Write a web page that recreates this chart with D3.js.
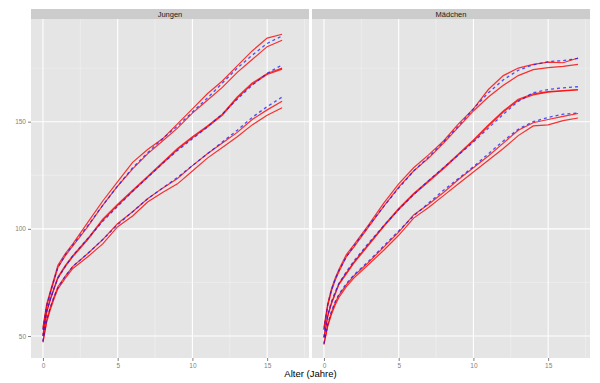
<!DOCTYPE html>
<html><head><meta charset="utf-8">
<script src="https://cdn.jsdelivr.net/npm/d3@7"></script>
<style>body{margin:0;background:#fff}svg{display:block}text{font-family:"Liberation Sans",Arial,sans-serif}</style>
</head><body><svg id="c" width="600" height="383"></svg>
<script>
const panels = ["Jungen", "Mädchen"];
const xTicks = [0, 5, 10, 15];
const yTicks = [50, 100, 150];
const xLabel = "Alter (Jahre)";

const agesBoys  = [0,0.25,0.5,0.75,1,1.5,2,3,4,5,6,7,8,9,10,11,12,13,14,15,16];
const agesGirls = [0,0.25,0.5,0.75,1,1.5,2,3,4,5,6,7,8,9,10,11,12,13,14,15,16,17];

// Jungen
const boysTopA = [54,65,71,77,83,88.5,93,103,113,122,131,137,142,149,156,163,169,176,183,189,190.8];
const boysTopB = [53,64,70,76,82,87.5,92,101,111,120,128,135,141,147,154,160,166,173,179,185,188];
const boysTopRef = [53,64,70.5,76.5,82,88,92.5,101.5,111,120,128.5,135.5,142,148,154.5,161,168,175,181,186.5,190];
const boysMidA = [50,61,67,72,77,82.5,87,95,104,111,117.5,124,130.5,137,142.5,147.5,153,161,167.5,172,174.5];
const boysMidB = [50.5,61.5,67.5,72.5,77.5,83,87.5,95.5,104.5,111.5,118,124.5,131,137.5,143,148,153.5,161.5,168,172.5,175];
const boysMidRef = [50,61.5,67.5,72.5,77,82.5,87.5,95.5,103.5,110.5,117.5,124,130.5,136.5,142,147.5,153.5,160.5,167,172.5,176.5];
const boysLowA = [47.5,57.5,63.5,68.5,73,78,82.5,88.5,95,102.5,108,114,119,123.5,129.5,135,140,145,151,155.5,159.5];
const boysLowB = [47,56.5,62.5,67.5,72,77,81.5,87,93,101,106,112.5,117,121,127,133,138,143,148.5,153,156.5];
const boysLowRef = [47.5,57.5,63.5,68.5,72.5,78,82.5,88.5,95,102,108,114,119,124,129.5,135,140.5,146,152,157,161.5];

// Mädchen
const girlsTopA = [54,65,72,77,81,88,92.5,102,112,121,128.5,134.5,141,149,156,165,171.5,175,176.7,177.8,177.5,179.7];
const girlsTopB = [53,64,71,76,80,87,91.5,101,110.5,119.5,127,133,140,147.5,155,161.5,167,171.5,174.3,175.2,175.8,176.7];
const girlsTopRef = [53,64.5,71.5,76.5,80.5,87,92,101.5,110.5,119,127,133.5,140.5,148,156,163.5,169.5,174,176.5,178,178.5,179.5];
const girlsMidA = [49.5,59.5,65.5,70,74.5,79.5,84.5,93,101.5,109.5,116.5,122.5,128.5,135,141.5,148.5,155,160.5,163,164,164.5,165];
const girlsMidB = [49,59,65,69.5,74,79,84,92.5,101,109,116,122,128,134.5,141,148,154.5,160,162.5,163.8,164.3,164.8];
const girlsMidRef = [49.5,60,66,70.5,74.5,80,85,93.5,101.5,109,116,122.5,128.5,134.5,140.5,147,153.5,159.5,163.5,165,165.8,166.3];
const girlsLowA = [46.5,55,61,65.5,69,74,78,84.5,91.5,98.5,106.5,111.5,117,123,128.5,134,140,146,149.5,151,152.5,153.8];
const girlsLowB = [46,54.5,60,64.5,68,73,77,83.5,90,97,105,110,115.5,121,126.5,132,137.5,143.5,148,148.5,150.5,151.7];
const girlsLowRef = [46.5,55.5,61.5,66,69.5,74.5,78.5,85,92,99,106,112,118,123.5,129,135,141,146.5,150,152,153.5,154];

const facets = [
  {name: panels[0], ages: agesBoys,
   red: [boysTopA, boysTopB, boysMidA, boysMidB, boysLowA, boysLowB],
   blue: [boysTopRef, boysMidRef, boysLowRef]},
  {name: panels[1], ages: agesGirls,
   red: [girlsTopA, girlsTopB, girlsMidA, girlsMidB, girlsLowA, girlsLowB],
   blue: [girlsTopRef, girlsMidRef, girlsLowRef]}
];

const svg = d3.select("#c");
const panelW = 278, panelTop = 19, panelBottom = 358, stripTop = 9;
const panelLefts = [31, 312];
const x = d3.scaleLinear().domain([-0.8, 17.8]).range([0, panelW]);
const y = d3.scaleLinear().domain([39.75, 197.9]).range([panelBottom - panelTop, 0]);
const h = panelBottom - panelTop;

const line = ages => d3.line().x((d, i) => x(ages[i])).y(d => y(d));

facets.forEach((f, pi) => {
  const g = svg.append("g").attr("transform", `translate(${panelLefts[pi]},${panelTop})`);
  svg.append("rect").attr("x", panelLefts[pi]).attr("y", stripTop).attr("width", panelW)
     .attr("height", panelTop - stripTop).attr("fill", "#cccccc");
  svg.append("text").attr("x", panelLefts[pi] + panelW / 2).attr("y", (stripTop + panelTop) / 2 + 2.8)
     .attr("text-anchor", "middle").attr("font-size", 7.5).attr("fill", "#1a1a1a").text(f.name);
  g.append("rect").attr("width", panelW).attr("height", h).attr("fill", "#e5e5e5");
  const xMinor = [2.5, 7.5, 12.5, 17.5];
  const yMinor = [75, 125, 175];
  g.selectAll(".xm").data(xMinor).join("line").attr("x1", d => x(d)).attr("x2", d => x(d))
    .attr("y1", 0).attr("y2", h).attr("stroke", "#f2f2f2").attr("stroke-width", 0.6);
  g.selectAll(".ym").data(yMinor).join("line").attr("y1", d => y(d)).attr("y2", d => y(d))
    .attr("x1", 0).attr("x2", panelW).attr("stroke", "#f2f2f2").attr("stroke-width", 0.6);
  g.selectAll(".xg").data(xTicks).join("line").attr("x1", d => x(d)).attr("x2", d => x(d))
    .attr("y1", 0).attr("y2", h).attr("stroke", "#ffffff").attr("stroke-width", 1.1);
  g.selectAll(".yg").data(yTicks).join("line").attr("y1", d => y(d)).attr("y2", d => y(d))
    .attr("x1", 0).attr("x2", panelW).attr("stroke", "#ffffff").attr("stroke-width", 1.1);
  f.red.forEach(s => {
    g.append("path").attr("d", line(f.ages)(s)).attr("fill", "none")
     .attr("stroke", "#ff0000").attr("stroke-width", 1.2).attr("stroke-opacity", 0.8);
  });
  f.blue.forEach(s => {
    g.append("path").attr("d", line(f.ages)(s)).attr("fill", "none")
     .attr("stroke", "#1a1aff").attr("stroke-width", 1.3).attr("stroke-dasharray", "3,3")
     .attr("stroke-opacity", 0.75);
  });
  const xa = svg.append("g").attr("transform", `translate(${panelLefts[pi]},${panelBottom})`)
    .call(d3.axisBottom(x).tickValues(xTicks).tickSize(3).tickPadding(2).tickFormat(d3.format("d")));
  xa.select(".domain").remove();
  xa.selectAll("line").attr("stroke", "#7f7f7f");
  xa.selectAll("text").attr("fill", "#7f7f7f").attr("font-size", 6.5)
    .attr("font-family", "Liberation Sans, Arial, sans-serif");
});

const ya = svg.append("g").attr("transform", `translate(${panelLefts[0]},${panelTop})`)
  .call(d3.axisLeft(y).tickValues(yTicks).tickSize(3).tickPadding(2));
ya.select(".domain").remove();
ya.selectAll("line").attr("stroke", "#7f7f7f");
ya.selectAll("text").attr("fill", "#7f7f7f").attr("font-size", 6.5)
  .attr("font-family", "Liberation Sans, Arial, sans-serif");

svg.append("text").attr("x", (panelLefts[0] + panelLefts[1] + panelW) / 2).attr("y", 377)
  .attr("text-anchor", "middle").attr("font-size", 9.5).attr("fill", "#000").text(xLabel);
</script></body></html>
